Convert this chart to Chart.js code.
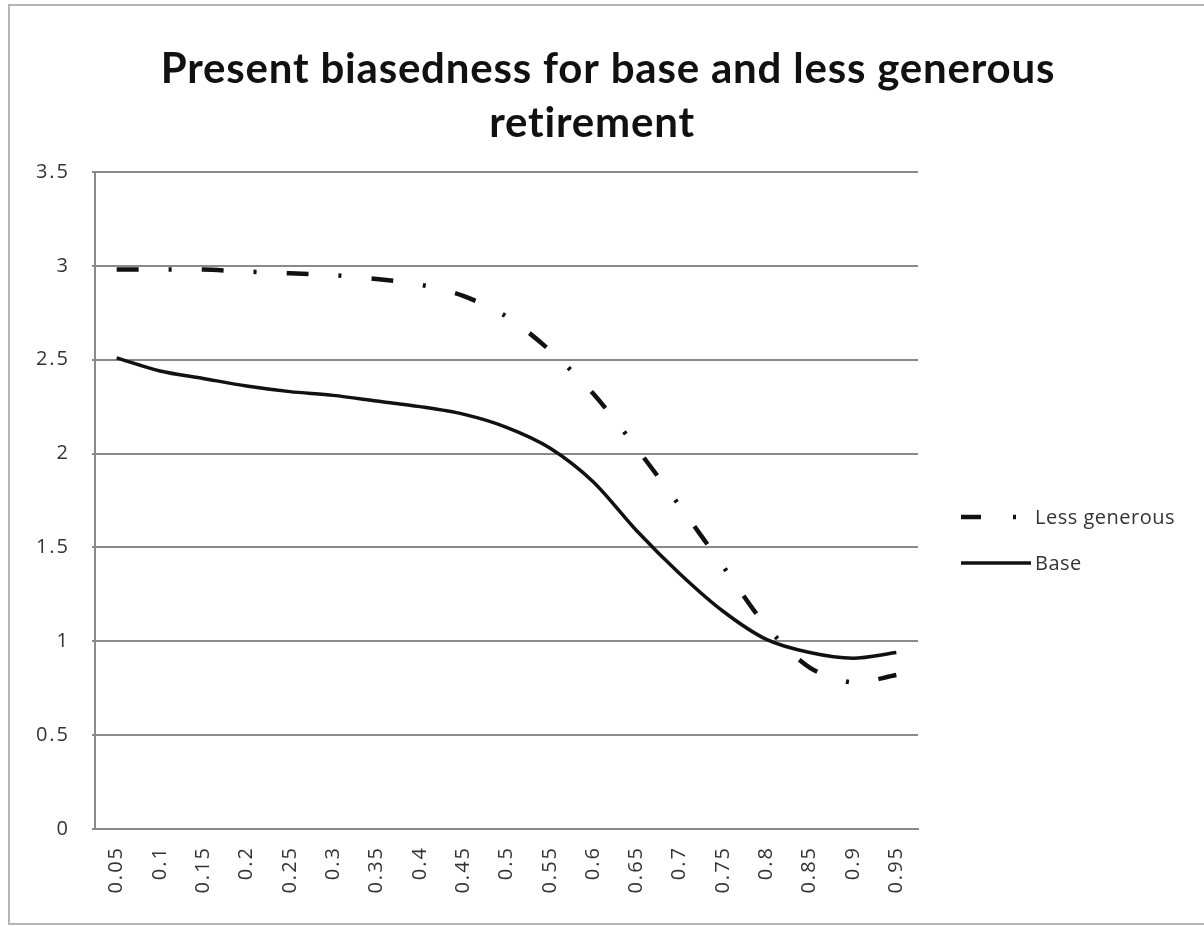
<!DOCTYPE html>
<html>
<head>
<meta charset="utf-8">
<script src="https://cdn.jsdelivr.net/npm/chart.js@4.4.1/dist/chart.umd.min.js"></script>
<style>
  html, body { margin: 0; padding: 0; background: #fff; }
  #wrap { position: relative; width: 1204px; height: 926px; }
</style>
</head>
<body>
<div id="wrap"><canvas id="chart" width="1204" height="926"></canvas></div>
<script>
// chart data
const categories = ['0.05', '0.1', '0.15', '0.2', '0.25', '0.3', '0.35', '0.4', '0.45', '0.5',
  '0.55', '0.6', '0.65', '0.7', '0.75', '0.8', '0.85', '0.9', '0.95'];
const lessGenerous = [2.98, 2.98, 2.98, 2.97, 2.96, 2.95, 2.93, 2.90, 2.84, 2.73,
  2.55, 2.32, 2.03, 1.72, 1.40, 1.08, 0.86, 0.78, 0.82];
const base = [2.51, 2.44, 2.40, 2.36, 2.33, 2.31, 2.28, 2.25, 2.21, 2.14,
  2.03, 1.85, 1.59, 1.36, 1.16, 1.01, 0.94, 0.91, 0.94];
const yTicks = [0, 0.5, 1, 1.5, 2, 2.5, 3, 3.5];
const titleLines = ['Present biasedness for base and less generous', 'retirement'];
const legendNames = ['Less generous', 'Base'];

const TICK_FONT = '"Open Sans", Lato, sans-serif';
const TITLE_FONT = 'Lato, "Open Sans", sans-serif';
const LESS_DASH = [22, 30, 3, 30];

// frame, title and legend are drawn by hand so the title centres on the whole page
const decorPlugin = {
  id: 'decor',
  beforeDraw(chart) {
    const ctx = chart.ctx;
    ctx.save();
    ctx.strokeStyle = '#b4b4b4';
    ctx.lineWidth = 2;
    ctx.strokeRect(9, 5, 1210, 919);
    ctx.restore();
    // wider tick text, like the original
    ctx.letterSpacing = '2px';
  },
  afterDraw(chart) {
    const ctx = chart.ctx;
    ctx.save();

    // title
    ctx.letterSpacing = '0.8px';
    ctx.fillStyle = '#111';
    ctx.font = 'bold 42px ' + TITLE_FONT;
    ctx.textAlign = 'center';
    ctx.textBaseline = 'alphabetic';
    ctx.fillText(titleLines[0], 608, 83);
    ctx.fillText(titleLines[1], 592, 137);

    // legend
    const rows = [
      { text: legendNames[0], y: 517, dash: [20, 32, 3, 30], width: 4.5 },
      { text: legendNames[1], y: 563, dash: [], width: 3.5 }
    ];
    ctx.textAlign = 'left';
    ctx.textBaseline = 'middle';
    ctx.letterSpacing = '0.5px';
    rows.forEach(row => {
      ctx.beginPath();
      ctx.setLineDash(row.dash);
      ctx.lineWidth = row.width;
      ctx.strokeStyle = '#111';
      ctx.moveTo(961, row.y);
      ctx.lineTo(1031, row.y);
      ctx.stroke();
      ctx.setLineDash([]);
      ctx.fillStyle = '#333';
      ctx.font = '20px ' + TICK_FONT;
      ctx.fillText(row.text, 1035, row.y + 1);
    });
    ctx.restore();
    ctx.letterSpacing = '0px';
  }
};

new Chart(document.getElementById('chart'), {
  type: 'line',
  data: {
    labels: categories,
    datasets: [{
      label: legendNames[0],
      data: lessGenerous,
      borderColor: '#111',
      borderWidth: 4.5,
      borderDash: LESS_DASH,
      borderCapStyle: 'butt',
      pointRadius: 0,
      tension: 0.3
    }, {
      label: legendNames[1],
      data: base,
      borderColor: '#111',
      borderWidth: 3.5,
      pointRadius: 0,
      tension: 0.3
    }]
  },
  options: {
    responsive: false,
    animation: false,
    layout: { padding: { top: 172, right: 286, bottom: 0, left: 0 } },
    plugins: {
      legend: { display: false },
      tooltip: { enabled: false },
      title: { display: false }
    },
    scales: {
      x: {
        offset: true,
        grid: { display: false, drawTicks: false },
        border: { color: '#8a8a8a', width: 2 },
        ticks: {
          color: '#333',
          font: { family: TICK_FONT, size: 20 },
          minRotation: 90,
          maxRotation: 90,
          padding: 17,
          autoSkip: false
        },
        afterFit(scale) { scale.height = 97; }
      },
      y: {
        min: 0,
        max: 3.5,
        afterBuildTicks(scale) { scale.ticks = yTicks.map(v => ({ value: v })); },
        grid: { color: '#8a8a8a', lineWidth: 2, tickLength: 3 },
        border: { color: '#8a8a8a', width: 2 },
        ticks: {
          color: '#333',
          font: { family: TICK_FONT, size: 20 },
          padding: 22,
          callback: v => String(v)
        },
        afterFit(scale) { scale.width = 95; }
      }
    }
  },
  plugins: [decorPlugin]
});
</script>
</body>
</html>
